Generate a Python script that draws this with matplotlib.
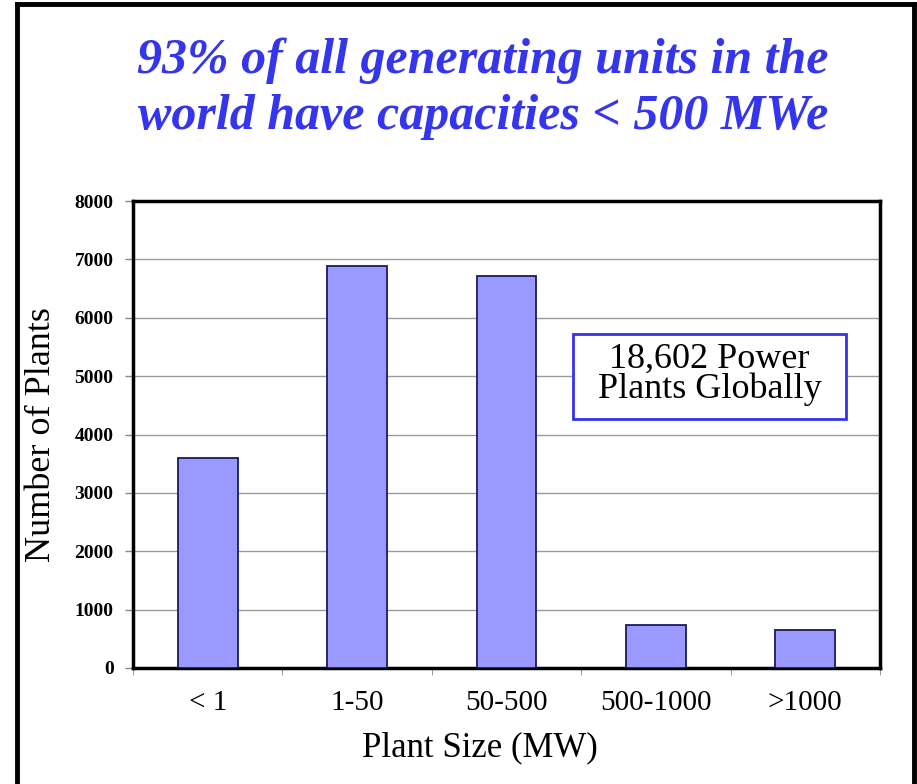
import matplotlib.pyplot as plt
from matplotlib.lines import Line2D
from matplotlib.patches import Rectangle
from matplotlib.ticker import FixedLocator

# plant counts by unit size
size_classes = ["< 1", "1-50", "50-500", "500-1000", ">1000"]
plant_counts = [3600, 6890, 6720, 740, 652]
y_ticks = [0, 1000, 2000, 3000, 4000, 5000, 6000, 7000, 8000]

title_lines = ["93% of all generating units in the",
               "world have capacities < 500 MWe"]
note_text = "18,602 Power\nPlants Globally"

plt.rcParams["font.family"] = ["Liberation Serif", "DejaVu Serif"]

W, H = 917, 784
fig = plt.figure(figsize=(W / 100, H / 100), dpi=100)
ax = fig.add_axes([133 / W, 1 - 668 / H, 747 / W, 467 / H])

x = range(len(size_classes))
ax.bar(x, plant_counts, width=0.4, color="#9999ff", edgecolor="#1a1a5e",
       linewidth=1.3, zorder=3)

ax.set_xlim(-0.5, len(size_classes) - 0.5)
ax.set_ylim(0, 8000)
ax.set_yticks(y_ticks)
ax.set_yticklabels([str(v) for v in y_ticks], fontsize=14, fontweight="bold")
ax.set_xticks(list(x))
ax.set_xticklabels(size_classes, fontsize=21)
ax.xaxis.set_minor_locator(FixedLocator([i + 0.5 for i in range(-1, len(size_classes))]))
ax.tick_params(axis="x", which="major", length=0, pad=16)
ax.tick_params(axis="x", which="minor", length=5, color="#888888", direction="out")
ax.tick_params(axis="y", length=6, width=1, color="#888888", pad=8)

ax.grid(axis="y", color="#999999", linewidth=1, zorder=0)
for side in ax.spines.values():
    side.set_linewidth(2.5)
    side.set_color("black")

ax.set_xlabel("Plant Size (MW)", fontsize=25)
ax.xaxis.set_label_coords(0.4645, -0.135)
ax.set_ylabel("Number of Plants", fontsize=26)
ax.yaxis.set_label_coords(-0.100, 0.5)

# boxed note
ax.add_patch(Rectangle((0.589, 0.533), 0.3655, 0.182, transform=ax.transAxes,
                       facecolor="white", edgecolor="#3333ee", linewidth=2,
                       zorder=4))
ax.text(0.772, 0.629, note_text, transform=ax.transAxes, fontsize=26,
        ha="center", va="center", linespacing=0.88, zorder=5)

for line, base in zip(title_lines, [73, 129]):
    fig.text(483 / W, 1 - base / H, line, ha="center", va="baseline",
             fontsize=36, fontweight="bold", fontstyle="italic",
             color="#3535ee")

# black frame around the slide (open at the bottom)
frame_x0, frame_x1, frame_y1 = 17 / W, 914 / W, 1 - 4 / H
for xs, ys in [([frame_x0, frame_x0], [-0.01, frame_y1]),
               ([frame_x0, frame_x1], [frame_y1, frame_y1]),
               ([frame_x1, frame_x1], [frame_y1, -0.01])]:
    fig.add_artist(Line2D(xs, ys, transform=fig.transFigure, color="black",
                          linewidth=3.5, solid_capstyle="projecting"))

fig.savefig("out.png", dpi=100)
